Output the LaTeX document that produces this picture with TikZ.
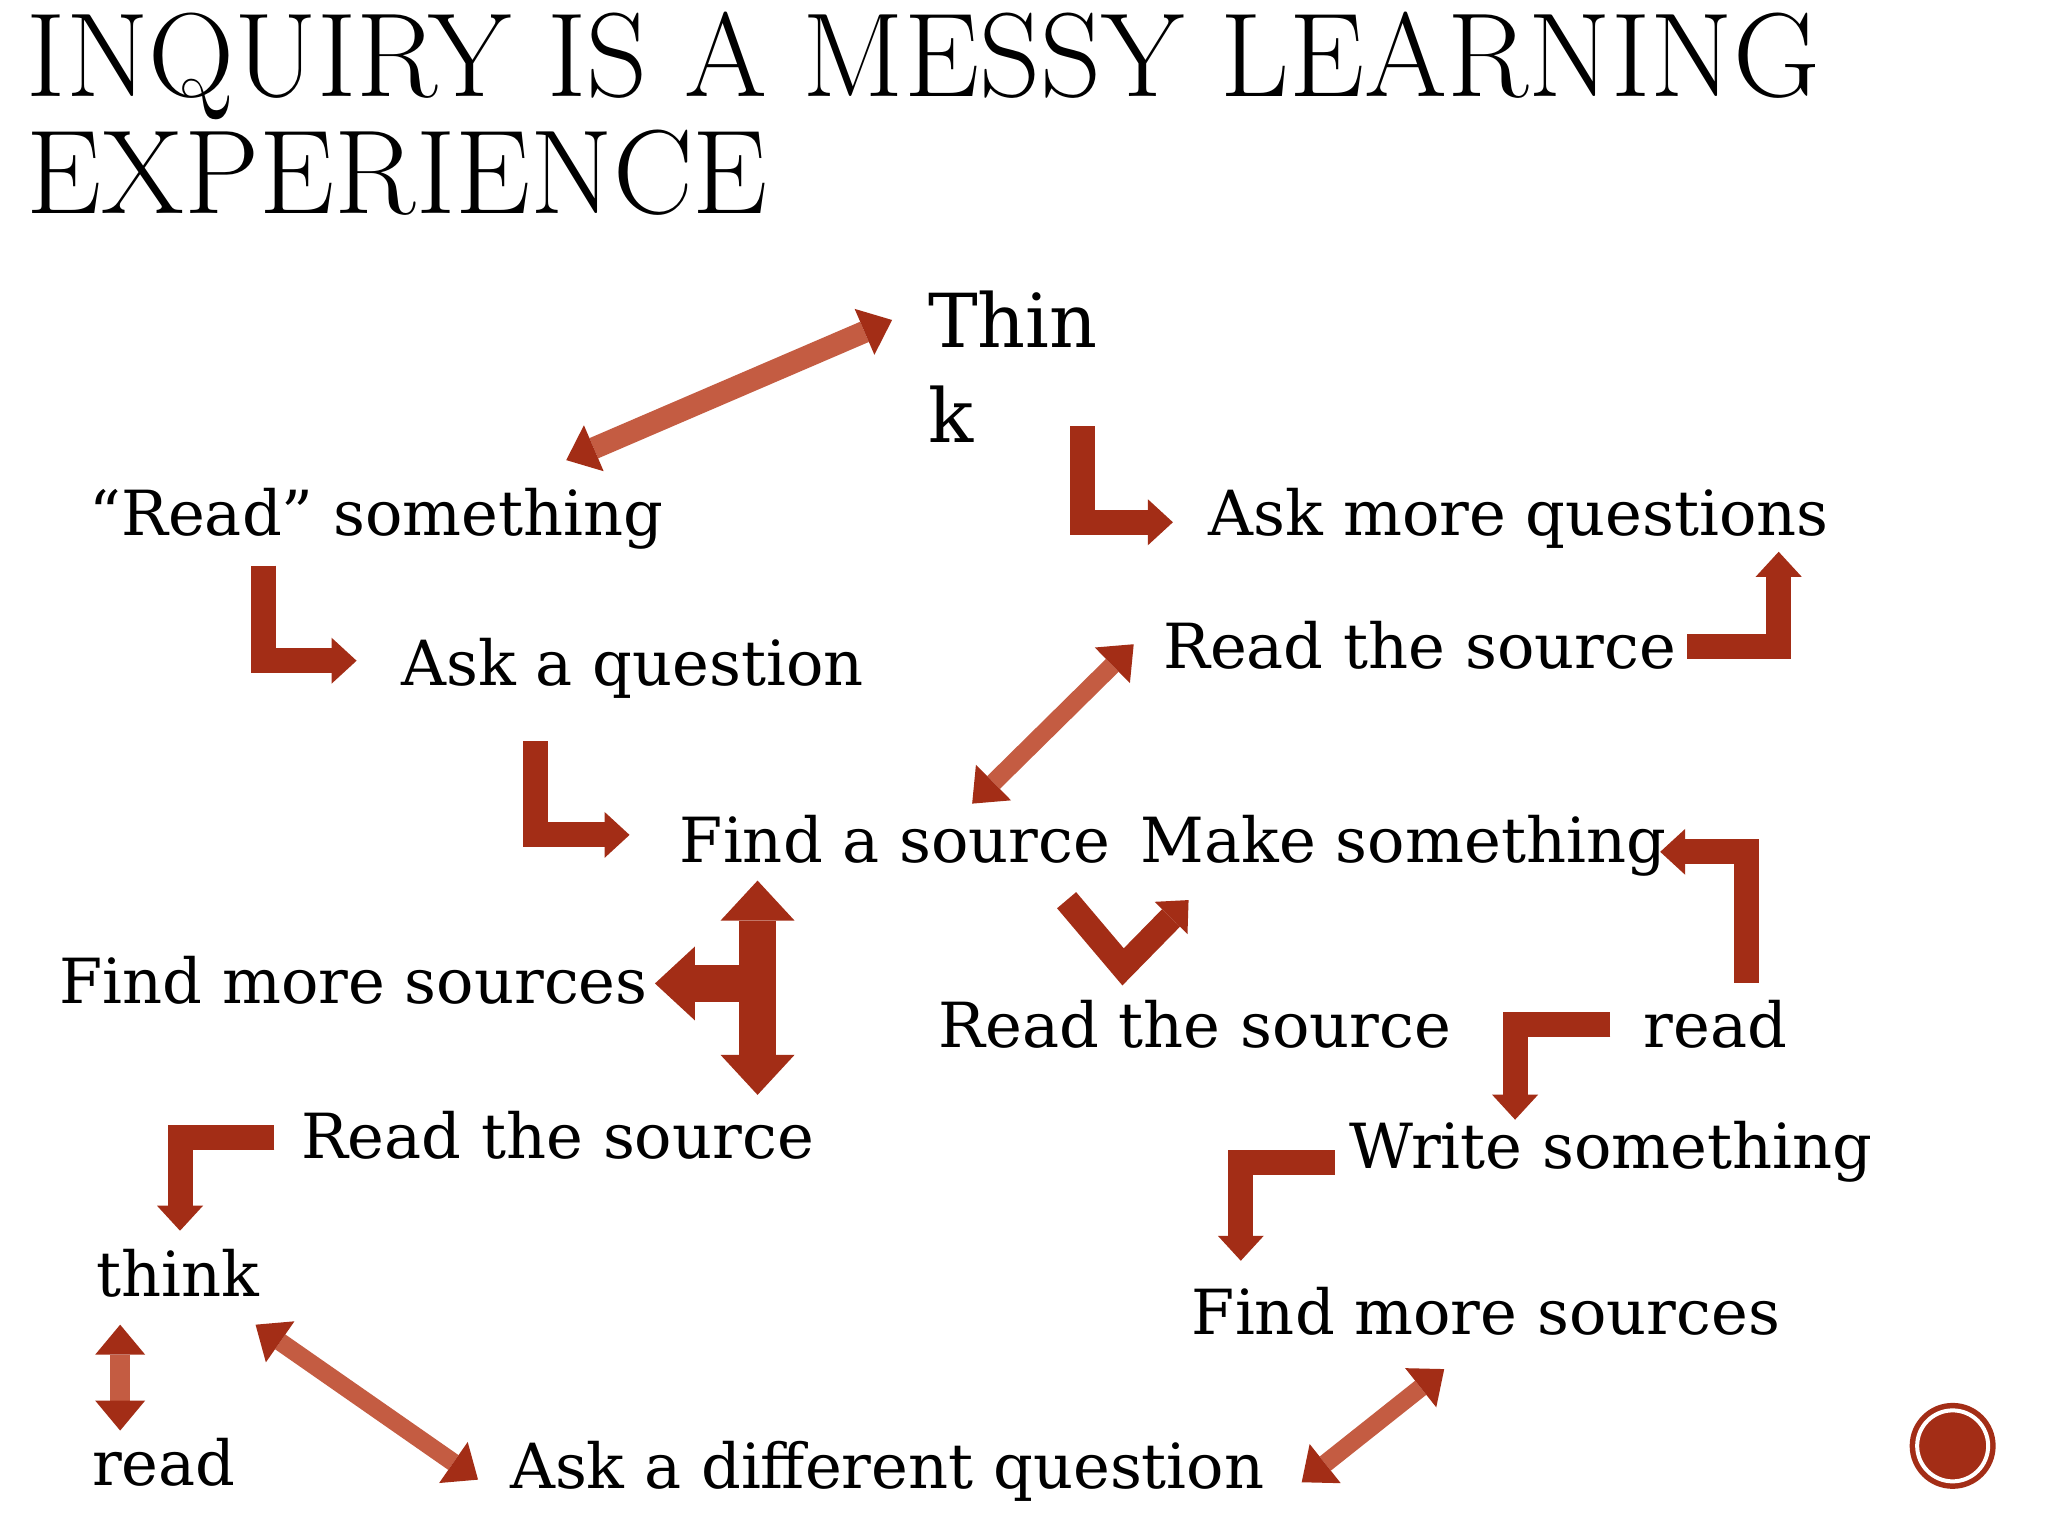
\documentclass[tikz,border=0pt]{standalone}
\usepackage{fontspec}
\newfontfamily\bodyfont{DejaVu Serif}
\usetikzlibrary{arrows.meta,calc}
\definecolor{rust}{RGB}{163,45,22}
\definecolor{rustlight}{RGB}{196,92,66}

\begin{document}
\begin{tikzpicture}[x=0.01306cm,y=-0.01306cm,
  lbl/.style={anchor=base west,inner sep=0pt,font=\bodyfont\fontsize{17.7}{22}\selectfont},
  lhead/.tip={Triangle[width=0.46cm,length=0.25cm,line width=0pt]},
  dhead/.tip={Triangle[width=0.5cm,length=0.3cm,line width=0pt,color=rust]},
  fhead/.tip={Triangle[width=0.74cm,length=0.4cm,line width=0pt]},
  larrow/.style={draw=rust,line width=0.25cm,line join=miter,-lhead},
  diag/.style={draw=rustlight,line width=0.18cm,dhead-dhead},
  fat/.style={draw=rust,line width=0.37cm,fhead-fhead}]
\fill[white] (0,0) rectangle (1568,1176);
\useasboundingbox (0,0) rectangle (1568,1176);

\node[anchor=north west,inner sep=0pt,align=left,font=\fontsize{34}{33.4}\selectfont] (title) at (20,8.5)
  {INQUIRY IS A MESSY LEARNING\\EXPERIENCE};

\node[anchor=north west,inner sep=0pt,align=left,font=\bodyfont\fontsize{21.2}{27.1}\selectfont] (think) at (710,222) {Thin\\k};
\node[lbl] (rs) at (68,410) {“Read” something};
\node[lbl] (amq) at (925,410) {Ask more questions};
\node[lbl] (aq) at (307,525) {Ask a question};
\node[lbl] (rts1) at (890,512) {Read the source};
\node[lbl] (fas) at (520,660) {Find a source};
\node[lbl] (ms) at (873,660) {Make something};
\node[lbl] (fms1) at (45,768) {Find more sources};
\node[lbl] (rts2) at (718,802) {Read the source};
\node[lbl] (rd1) at (1258,802) {read};
\node[lbl] (rts3) at (230,887) {Read the source};
\node[lbl] (ws) at (1033,895) {Write something};
\node[lbl] (tk) at (73,993) {think};
\node[lbl] (fms2) at (912,1022) {Find more sources};
\node[lbl] (rd2) at (70,1137) {read};
\node[lbl] (adq) at (390,1140) {Ask a different question};

% upper part
\draw[diag,line width=0.22cm] ($(rs.north east)+(-75,-21)$) -- ($(think.north west)+(-27,23)$);
\draw[larrow] ($(think.south east)+(-12,-13)$) |- ($(amq.west)+(-27,3)$);
\draw[larrow] ($(rs.south west)+(134,12)$) |- ($(aq.west)+(-34,-6)$);
\draw[larrow] ($(aq.south west)+(103,32)$) |- ($(fas.west)+(-38,-3)$);
\draw[diag] ($(fas.north)+(59,-8)$) -- ($(rts1.west)+(-22,-1)$);
\draw[larrow] ($(rts1.east)+(8,1)$) -| ($(amq.south east)+(-39,2)$);

% middle
\coordinate (ttop) at ($(fas.south west)+(60,13)$);
\draw[fat] (ttop) -- coordinate[pos=0.48] (tee) ($(ttop |- rts3.north)+(0,-12)$);
\draw[draw=rust,line width=0.37cm,-fhead] (tee) -- ($(tee -| fms1.east)+(5,0)$);
\draw[larrow] ($(fas.south east)+(-34,28)$) -- ($(rts2.north)+(-55,-25)$) -- ($(ms.south west)+(37,18)$);
\draw[larrow] ($(rd1.north east)+(-32,-13)$) |- ($(ms.east)+(-5,5)$);
\draw[larrow] ($(rd1.west)+(-25,0)$) -| ($(ws.north west)+(127,-1)$);

% lower part
\draw[larrow] ($(rts3.west)+(-20,2)$) -| ($(tk.north)+(2,-14)$);
\draw[larrow] ($(ws.west)+(-11,8)$) -| ($(fms2.north west)+(38,-20)$);
\draw[diag,line width=0.2cm] ($(tk.south west)+(19,20)$) -- ($(rd2.north west)+(22,-5)$);
\draw[diag] ($(tk.south east)+(-3,20)$) -- ($(adq.west)+(-24,6)$);
\draw[diag] ($(adq.east)+(28,8)$) -- ($(fms2.south)+(-32,25)$);

\fill[rust] (1495,1107) circle (0.43cm);
\draw[white,line width=0.04cm] (1495,1107) circle (0.355cm);
\end{tikzpicture}
\end{document}
